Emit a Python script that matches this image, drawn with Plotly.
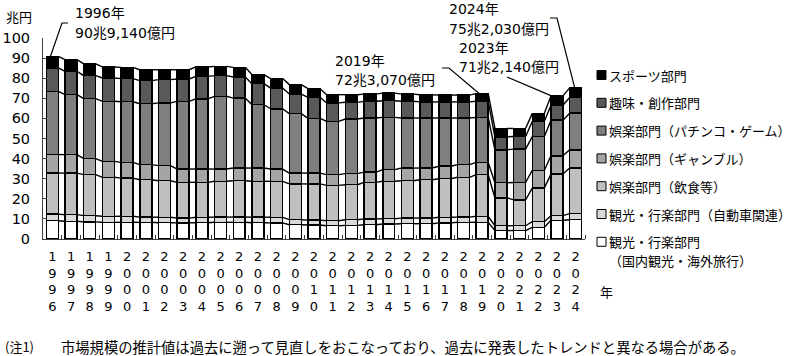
import plotly.graph_objects as go
import numpy as np

years = list(range(1996, 2025))
tick_labels = ["<br>".join(str(y)) for y in years]

# 兆円
tourism = [9.1, 8.8, 8.5, 8.3, 8.3, 8.3, 8.1, 8.0, 8.1, 8.3, 8.3, 8.1, 8.0, 7.1, 7.0,
           6.6, 6.8, 7.1, 7.5, 7.6, 7.6, 8.0, 8.3, 8.3, 4.2, 4.2, 5.8, 9.3, 9.6]
auto = [3.3, 3.3, 3.1, 3.0, 3.0, 2.6, 2.7, 2.4, 2.7, 2.6, 2.6, 2.8, 2.8, 2.5, 2.4,
        2.5, 2.8, 2.9, 2.6, 2.8, 2.8, 2.8, 2.6, 3.0, 2.4, 2.4, 2.8, 2.3, 3.0]
food = [20.4, 20.7, 20.4, 19.4, 19.0, 18.6, 18.2, 17.8, 17.4, 17.8, 18.1, 17.8, 17.9, 17.8, 18.0,
        17.6, 17.4, 18.2, 18.6, 18.6, 19.1, 19.2, 19.8, 20.7, 13.9, 12.9, 16.7, 20.7, 22.7]
gamble = [9.2, 9.2, 8.0, 7.9, 7.8, 7.5, 7.5, 6.6, 6.6, 6.1, 6.3, 6.6, 6.1, 5.4, 5.4,
          5.3, 5.5, 5.1, 5.8, 6.3, 5.8, 6.2, 6.3, 6.1, 7.5, 8.6, 8.8, 9.1, 9.1]
pachinko = [31.5, 29.8, 29.8, 29.9, 30.2, 30.3, 31.2, 33.7, 34.9, 36.2, 34.8, 31.5, 30.0, 29.6, 27.2,
            26.5, 27.2, 26.9, 26.0, 24.9, 24.9, 24.0, 23.2, 22.4, 16.4, 16.6, 16.8, 17.7, 18.2]
hobby = [11.6, 11.6, 11.5, 11.6, 11.5, 11.5, 11.6, 11.1, 11.2, 10.3, 10.5, 10.5, 10.3, 9.7, 10.5,
         9.2, 8.3, 8.3, 8.3, 8.3, 8.0, 8.0, 8.0, 8.0, 6.4, 6.3, 7.6, 7.4, 7.8]
sports = [5.8, 5.8, 5.8, 5.5, 5.6, 5.4, 4.9, 4.6, 4.7, 4.6, 4.8, 4.5, 4.7, 4.7, 4.3,
          4.1, 3.8, 3.6, 3.8, 3.6, 3.6, 3.4, 3.4, 3.8, 4.2, 4.0, 4.0, 4.7, 4.8]

series_names = ["観光・行楽部門<br>（国内観光・海外旅行）", "観光・行楽部門（自動車関連）",
                "娯楽部門（飲食等）", "娯楽部門（ギャンブル）", "娯楽部門（パチンコ・ゲーム）",
                "趣味・創作部門", "スポーツ部門"]
series_values = [tourism, auto, food, gamble, pachinko, hobby, sports]
series_colors = ["#ffffff", "#d9d9d9", "#bfbfbf", "#a5a5a5", "#7f7f7f", "#595959", "#000000"]

callouts = [(1996, "1996年", "90兆9,140億円"), (2019, "2019年", "72兆3,070億円"),
            (2023, "2023年", "71兆2,140億円"), (2024, "2024年", "75兆2,030億円")]

BAR_W = 0.64
x = np.arange(len(years))
fig = go.Figure()
for name, vals, col in zip(series_names, series_values, series_colors):
    fig.add_trace(go.Bar(x=x, y=vals, name=name.replace("<br>", ""), width=BAR_W,
                         marker=dict(color=col, line=dict(color="#000000", width=1.5)),
                         hoverinfo="skip", showlegend=False))

# series lines between adjacent bars
cum = np.cumsum(np.array(series_values), axis=0)
lx, ly = [], []
for level in cum:
    for i in range(len(years) - 1):
        lx += [x[i] + BAR_W / 2, x[i + 1] - BAR_W / 2, None]
        ly += [level[i], level[i + 1], None]
fig.add_trace(go.Scatter(x=lx, y=ly, mode="lines", line=dict(color="#000000", width=1.4),
                         showlegend=False, hoverinfo="skip"))

L, R, T, B = 43, 215, 38, 117
W, H = 800, 356
PW, PH = W - L - R, H - T - B
NX = len(years)
YMAX = 100


def px_x(px):
    return (px - L) / PW


def px_y(py):
    return (H - B - py) / PH


def d_x(xd):
    return (xd + 0.5) / NX


def d_y(yd):
    return yd / YMAX


numfont = "DejaVu Sans, Noto Sans CJK JP"
jpfont = "Noto Sans CJK JP"

ann = []
shapes = []
totals = cum[-1]
cfg = {
    1996: dict(tx=73, ty1=13, ty2=33, path=[(68, 23), (62, 23)], dx=-0.1),
    2019: dict(tx=333, ty1=61, ty2=80, path=[(442, 68), (449, 68)], dx=-0.15),
    2023: dict(tx=457, ty1=48, ty2=67, path=[(507, 77)], dx=-0.3),
    2024: dict(tx=447, ty1=9, ty2=29, path=[(550, 18), (557, 18)], dx=-0.05),
}
for yr, l1, l2 in callouts:
    c = cfg[yr]
    i = years.index(yr)
    for txt, ty in ((l1, c["ty1"]), (l2, c["ty2"])):
        ann.append(dict(x=px_x(c["tx"]), y=px_y(ty), xref="paper", yref="paper", text=txt,
                        showarrow=False, xanchor="left", yanchor="middle",
                        font=dict(family=numfont, size=14, color="#000")))
    pts = [(px_x(a), px_y(b)) for a, b in c["path"]] + [(d_x(i + c["dx"]), d_y(totals[i]))]
    p = "M " + " L ".join(f"{a:.5f},{b:.5f}" for a, b in pts)
    shapes.append(dict(type="path", path=p, xref="paper", yref="paper",
                       line=dict(color="#000", width=1.2)))

# legend (top: スポーツ部門 ... bottom: 観光・行楽部門)
LEG_X0, LEG_SQ, LEG_Y0, LEG_DY = 597, 9, 75, 27.8
for k, (name, col) in enumerate(zip(reversed(series_names), reversed(series_colors))):
    cy = LEG_Y0 + k * LEG_DY
    shapes.append(dict(type="rect", xref="paper", yref="paper",
                       x0=px_x(LEG_X0), x1=px_x(LEG_X0 + LEG_SQ),
                       y0=px_y(cy - LEG_SQ / 2), y1=px_y(cy + LEG_SQ / 2),
                       fillcolor=col, line=dict(color="#000", width=1)))
    for j, line in enumerate(name.split("<br>")):
        ann.append(dict(x=px_x(LEG_X0 + LEG_SQ + 1), y=px_y(cy + j * 19), xref="paper", yref="paper",
                        text=line, showarrow=False, xanchor="left", yanchor="middle",
                        font=dict(family=jpfont, size=13, color="#000")))

ann.append(dict(x=px_x(19), y=px_y(17), xref="paper", yref="paper", text="兆円", showarrow=False,
                xanchor="center", yanchor="middle", font=dict(family=jpfont, size=13, color="#000")))
ann.append(dict(x=px_x(607), y=px_y(291), xref="paper", yref="paper", text="年", showarrow=False,
                xanchor="center", yanchor="middle", font=dict(family=jpfont, size=13, color="#000")))
ann.append(dict(x=px_x(3), y=px_y(346), xref="paper", yref="paper", text="(注1)", showarrow=False,
                xanchor="left", yanchor="middle", font=dict(family=jpfont, size=13, color="#000")))
ann.append(dict(x=px_x(59), y=px_y(346), xref="paper", yref="paper",
                text="市場規模の推計値は過去に遡って見直しをおこなっており、過去に発表したトレンドと異なる場合がある。",
                showarrow=False, xanchor="left", yanchor="middle",
                font=dict(family=jpfont, size=14.3, color="#000")))

fig.update_layout(
    width=W, height=H, margin=dict(l=L, r=R, t=T, b=B, pad=0, autoexpand=False),
    barmode="stack", bargap=0.36,
    paper_bgcolor="#ffffff", plot_bgcolor="#ffffff",
    showlegend=False,
    xaxis=dict(range=[-0.5, NX - 0.5], tickmode="array", tickvals=list(x), ticktext=tick_labels,
               ticks="", showline=True, linecolor="#404040", linewidth=1, showgrid=False,
               zeroline=False, ticklabelstandoff=5,
               tickfont=dict(family=numfont, size=13, color="#000"),
               minor=dict(tickmode="array", tickvals=[i + 0.5 for i in range(NX)], ticks="inside",
                          ticklen=4, tickcolor="#404040", showgrid=False),
               fixedrange=True),
    yaxis=dict(range=[0, YMAX], tickmode="linear", tick0=0, dtick=10, ticks="inside", ticklen=4,
               tickcolor="#404040", showline=True, linecolor="#404040", linewidth=1,
               showgrid=False, zeroline=False, ticklabelstandoff=9,
               tickfont=dict(family=numfont, size=14.5, color="#000"), fixedrange=True),
    annotations=ann, shapes=shapes,
)

fig.write_html("out.html", config={"displayModeBar": False},
               post_script="document.body.style.margin='0';document.body.style.overflow='hidden';")
